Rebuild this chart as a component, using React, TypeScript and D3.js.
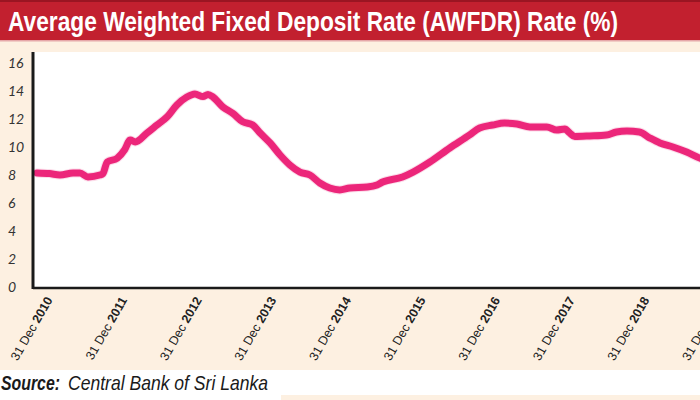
import React from "react";
import * as d3 from "d3";

const titleText = "Average Weighted Fixed Deposit Rate (AWFDR) Rate (%)";
const sourceLabel = "Source:";
const sourceText = "Central Bank of Sri Lanka";

// months after 31 Dec 2010
const monthOffsets = [0, 2, 3.7, 5.8, 6.9, 8.2, 10.1, 10.6, 11.3, 12.9, 14.1, 15, 15.8, 17.7, 19.3, 20.9, 22.5, 24.1, 25.4, 26.7, 27.5, 28.3, 29.9, 31.5, 33.1, 34.7, 35.9, 37.5, 39.1, 40.7, 42.3, 43.9, 45.5, 47.1, 48.7, 50.3, 53.1, 54.7, 55.6, 58.8, 60.5, 63.2, 66.4, 69.6, 71.2, 73.3, 75.2, 77.2, 79.3, 82, 83.6, 84.9, 85.7, 86.5, 88.9, 91.6, 93.2, 94.9, 96.9, 98.6, 100.2, 102.3, 104.5, 106.6, 108];
const rateValues = [8.15, 8.1, 8.0, 8.14, 8.14, 7.86, 8.0, 8.1, 8.93, 9.2, 9.8, 10.5, 10.36, 11.0, 11.57, 12.14, 13.0, 13.57, 13.79, 13.6, 13.75, 13.57, 12.86, 12.4, 11.8, 11.57, 11.0, 10.29, 9.43, 8.71, 8.21, 8.0, 7.43, 7.07, 6.93, 7.07, 7.14, 7.29, 7.5, 7.86, 8.21, 8.93, 9.93, 10.86, 11.36, 11.57, 11.71, 11.64, 11.43, 11.43, 11.21, 11.29, 11.0, 10.75, 10.79, 10.86, 11.07, 11.14, 11.07, 10.64, 10.29, 10.0, 9.64, 9.21, 9.0];

const tickYears = [2010, 2011, 2012, 2013, 2014, 2015, 2016, 2017, 2018, 2019];
const yTicks = [0, 2, 4, 6, 8, 10, 12, 14, 16];

export default function App() {
  const W = 700, H = 400;
  const plotL = 33, plotR = 700, plotT = 52, plotB = 288;
  const x = d3.scaleLinear().domain([0, 108]).range([37, 37 + 9 * 74.6]);
  const y = d3.scaleLinear().domain([0, 16]).range([287, 63]);
  const pts = monthOffsets.map((m, i) => [m, rateValues[i]] as [number, number]);
  const line = d3.line<[number, number]>()
    .x(d => x(d[0]))
    .y(d => y(d[1]))
    .curve(d3.curveMonotoneX);
  const narrow = "'Liberation Sans Narrow', 'Liberation Sans', Arial, sans-serif";

  return (
    <svg width={W} height={H} style={{ position: "absolute", left: 0, top: 0, display: "block" }}>
      <defs>
        <clipPath id="plotClip">
          <rect x={plotL} y={plotT} width={plotR - plotL} height={plotB - plotT} />
        </clipPath>
      </defs>
      <rect x={0} y={0} width={W} height={H} fill="#ffffff" />
      <rect x={0} y={40} width={W} height={330} fill="#fdf0e1" />
      <rect x={281} y={395} width={419} height={5} fill="#fdf0e1" />
      {/* header */}
      <rect x={0} y={0} width={W} height={41} fill="#c2202f" />
      <rect x={0} y={0} width={W} height={2} fill="#9a1522" />
      <rect x={0} y={40} width={W} height={1.5} fill="#e6a7a9" />
      <text x={8} y={31} fill="#ffffff" fontFamily={narrow}
        fontWeight="bold" fontSize={28} textLength={610} lengthAdjust="spacingAndGlyphs">{titleText}</text>

      {/* plot area */}
      <rect x={plotL} y={plotT} width={plotR - plotL} height={plotB - plotT} fill="#ffffff" />
      <g clipPath="url(#plotClip)">
        <path d={line(pts) || ""} fill="none" stroke="#f7b9d3" strokeWidth={9} strokeLinejoin="round" strokeLinecap="round" opacity={0.5} />
        <path d={line(pts) || ""} fill="none" stroke="#ec267a" strokeWidth={7} strokeLinejoin="round" strokeLinecap="round" />
      </g>
      <line x1={plotL} x2={plotL} y1={plotT} y2={plotB + 1} stroke="#1a1a1a" strokeWidth={3} />
      <line x1={plotL} x2={plotR} y1={plotB} y2={plotB} stroke="#1a1a1a" strokeWidth={2.5} />

      {yTicks.map(v => (
        <text key={v} x={8} y={y(v)} dy="0.36em" fontFamily="Lato, 'Open Sans', sans-serif" fontStyle="italic"
          fontSize={14} fill="#333">{v}</text>
      ))}

      {tickYears.map(yr => {
        const tx = x((yr - 2010) * 12) + 16;
        const ty = 300;
        return (
          <text key={yr} transform={`translate(${tx},${ty}) rotate(-60)`} textAnchor="end"
            fontFamily="'Liberation Sans', Arial, sans-serif" fontSize={12.5} fill="#222">
            <tspan>31 Dec </tspan>
            <tspan fontWeight="bold">{yr}</tspan>
          </text>
        );
      })}

      <text x={1} y={390} fontFamily={narrow} fontStyle="italic" fontWeight="bold"
        fontSize={21} fill="#1a1a1a" textLength={59} lengthAdjust="spacingAndGlyphs">{sourceLabel}</text>
      <text x={68} y={390} fontFamily={narrow} fontStyle="italic"
        fontSize={21} fill="#1a1a1a" textLength={200} lengthAdjust="spacingAndGlyphs">{sourceText}</text>
    </svg>
  );
}
